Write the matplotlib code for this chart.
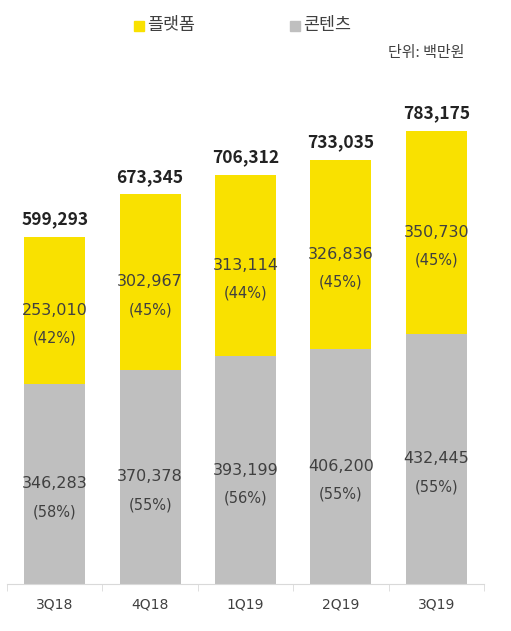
import numpy as np
import matplotlib.pyplot as plt
from matplotlib.patches import Rectangle

plt.rcParams['font.family'] = ['Noto Sans CJK KR', 'DejaVu Sans']

quarters = ["3Q18", "4Q18", "1Q19", "2Q19", "3Q19"]
content = [346283, 370378, 393199, 406200, 432445]
platform = [253010, 302967, 313114, 326836, 350730]
content_pct = [58, 55, 56, 55, 55]
platform_pct = [42, 45, 44, 45, 45]
totals = [599293, 673345, 706312, 733035, 783175]

YELLOW = "#F9E100"
GRAY = "#BFBFBF"
TXT = "#404040"
NUM_FONT = ["DejaVu Sans"]

fig = plt.figure(figsize=(5.11, 6.31), dpi=100)
ax = fig.add_axes([7 / 511, 47 / 631, 477 / 511, 524 / 631])

x = np.arange(len(quarters))
w = 0.64
ax.bar(x, content, w, color=GRAY)
ax.bar(x, platform, w, bottom=content, color=YELLOW)

ax.set_xlim(-0.5, len(quarters) - 0.5)
ax.set_ylim(0, 905000)

for i in range(len(quarters)):
    c_mid = content[i] / 2
    p_mid = content[i] + platform[i] / 2
    ax.text(x[i], c_mid, f"{content[i]:,}", ha="center", va="center", fontsize=11.5,
            color=TXT, family=NUM_FONT)
    ax.annotate(f"({content_pct[i]}%)", (x[i], c_mid), xytext=(0, -20), textcoords="offset points",
                ha="center", va="center", fontsize=10.5, color=TXT, family=NUM_FONT)
    ax.text(x[i], p_mid, f"{platform[i]:,}", ha="center", va="center", fontsize=11.5,
            color=TXT, family=NUM_FONT)
    ax.annotate(f"({platform_pct[i]}%)", (x[i], p_mid), xytext=(0, -20), textcoords="offset points",
                ha="center", va="center", fontsize=10.5, color=TXT, family=NUM_FONT)
    ax.annotate(f"{totals[i]:,}", (x[i], totals[i]), xytext=(0, 6), textcoords="offset points",
                ha="center", va="bottom", fontsize=12.5, fontweight="bold", color="#222222")

for s in ["top", "right", "left"]:
    ax.spines[s].set_visible(False)
ax.spines["bottom"].set_color("#D9D9D9")
ax.set_yticks([])
ax.set_xticks(x)
ax.set_xticklabels(quarters, fontsize=10, color=TXT, family=NUM_FONT)
ax.tick_params(axis="x", which="major", length=0, pad=10)
ax.set_xticks(np.arange(-0.5, len(quarters)), minor=True)
ax.tick_params(axis="x", which="minor", length=5, color="#D9D9D9")

# legend
fig.patches.append(Rectangle((134 / 511, 1 - 31 / 631), 10 / 511, 10 / 631, transform=fig.transFigure,
                             color=YELLOW, figure=fig))
fig.text(147 / 511, 1 - 25 / 631, "플랫폼", fontsize=12.5, color=TXT, va="center")
fig.patches.append(Rectangle((290 / 511, 1 - 31 / 631), 10 / 511, 10 / 631, transform=fig.transFigure,
                             color=GRAY, figure=fig))
fig.text(303 / 511, 1 - 25 / 631, "콘텐츠", fontsize=12.5, color=TXT, va="center")
fig.text(464 / 511, 1 - 53 / 631, "단위: 백만원", fontsize=10.8, color=TXT, va="center", ha="right")

fig.savefig("out.png", dpi=100)
